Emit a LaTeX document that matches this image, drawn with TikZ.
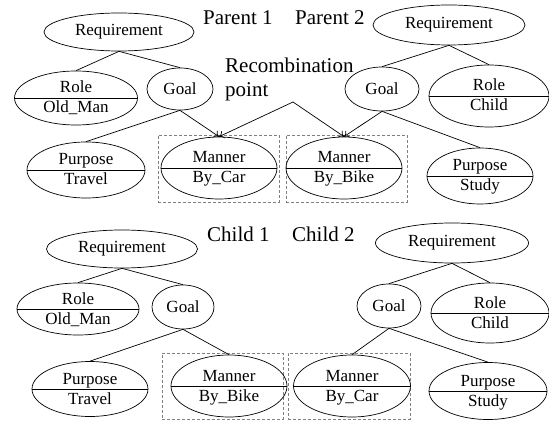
\documentclass[tikz,border=0pt]{standalone}
\usepackage{fontspec}
\setmainfont{Liberation Serif}
\usetikzlibrary{shapes.geometric,arrows.meta}

% ellipse cut in two by a horizontal rule, with a label in each half
\newcommand{\dualoval}[6]{%
  \node[oval,minimum width=#3pt,minimum height=#4pt] (#1) at (#2) {};
  \draw[link] (#1.west) -- (#1.east);
  \node[part] (#1-top) at ([yshift=5pt]#1.center) {#5};
  \node[part] (#1-bot) at ([yshift=-15pt]#1.center) {#6};
}

\begin{document}
\begin{tikzpicture}[x=1pt,y=-1pt,
  oval/.style={ellipse,draw,line width=0.7pt,inner sep=0pt,font=\fontsize{17}{17}\selectfont},
  part/.style={inner sep=0pt,anchor=base,font=\fontsize{17}{17}\selectfont},
  link/.style={line width=0.7pt},
  arr/.style={link,-{To[length=5pt,width=8pt]}},
  sel/.style={draw=gray,dash pattern=on 3pt off 2pt,line width=0.6pt,inner sep=0pt},
  tag/.style={inner sep=0pt,anchor=base west,font=\fontsize{21}{21}\selectfont}]
\useasboundingbox (0,0) rectangle (549,422);

% ---------- selected subtrees ----------
\node[sel,minimum width=121pt,minimum height=67pt] (box1) at (218.5,168.5) {};
\node[sel,minimum width=121pt,minimum height=67pt] (box2) at (346.5,168.5) {};
\node[sel,minimum width=121pt,minimum height=66pt] (box3) at (222.5,386) {};
\node[sel,minimum width=122pt,minimum height=66pt] (box4) at (349,386) {};

% ---------- Parent 1 ----------
\node[oval,minimum width=150pt,minimum height=38pt] (req1) at (119,32) {Requirement};
\dualoval{role1}{76,98}{123}{54}{Role}{Old\_Man}
\node[oval,minimum width=66pt,minimum height=42pt] (goal1) at (180,89) {Goal};
\dualoval{purp1}{86,170}{118}{56}{Purpose}{Travel}
\dualoval{man1}{219,168}{116}{62}{Manner}{By\_Car}

% ---------- Parent 2 ----------
\node[oval,minimum width=152pt,minimum height=40pt] (req2) at (449,25) {Requirement};
\node[oval,minimum width=74pt,minimum height=44pt] (goal2) at (382,89) {Goal};
\dualoval{role2}{489,96}{120}{62}{Role}{Child}
\dualoval{man2}{344,168}{116}{62}{Manner}{By\_Bike}
\dualoval{purp2}{480,176}{106}{56}{Purpose}{Study}

% ---------- Child 1 ----------
\node[oval,minimum width=151pt,minimum height=38pt] (req3) at (122,249) {Requirement};
\dualoval{role3}{78,309}{122}{52}{Role}{Old\_Man}
\node[oval,minimum width=62pt,minimum height=44pt] (goal3) at (183,307) {Goal};
\dualoval{purp3}{90,389}{116}{55}{Purpose}{Travel}
\dualoval{man3}{229,386}{116}{62}{Manner}{By\_Bike}

% ---------- Child 2 ----------
\node[oval,minimum width=153pt,minimum height=40pt] (req4) at (452,243) {Requirement};
\node[oval,minimum width=64pt,minimum height=44pt] (goal4) at (389,306) {Goal};
\dualoval{role4}{490,313}{118}{60}{Role}{Child}
\dualoval{man4}{352,386}{117}{62}{Manner}{By\_Car}
\dualoval{purp4}{488,391}{118}{57}{Purpose}{Study}

% ---------- captions ----------
\node[tag] (p1) at (203,25) {Parent 1};
\node[tag] (p2) at (295,25) {Parent 2};
\node[tag] (c1) at (207,242) {Child 1};
\node[tag] (c2) at (292,242) {Child 2};
\node[tag] (rc1) at (225,73) {Recombination};
\node[tag] (rc2) at (225,97) {point};
\coordinate (rp) at (293,102);

% ---------- tree edges ----------
\draw[link] (req1.south) -- (role1.north);
\draw[link] (req1.south) -- (goal1.north);
\draw[link] (goal1.south) -- (purp1.north);
\draw[arr]  (goal1.south) -- (man1.north);

\draw[link] (req2.south) -- (goal2.north);
\draw[link] (req2.south) -- (role2.north);
\draw[arr]  (goal2.south) -- (man2.north);
\draw[link] (goal2.south) -- (purp2.north);

\draw[arr] (rp) -- (man1.north);
\draw[arr] (rp) -- (man2.north);

\draw[link] (req3.south) -- (role3.north);
\draw[link] (req3.south) -- (goal3.north);
\draw[link] (goal3.south) -- (purp3.north);
\draw[link] (goal3.south) -- (man3.north);

\draw[link] (req4.south) -- (goal4.north);
\draw[link] (req4.south) -- (role4.north);
\draw[link] (goal4.south) -- (man4.north);
\draw[link] (goal4.south) -- (purp4.north);
\end{tikzpicture}
\end{document}
